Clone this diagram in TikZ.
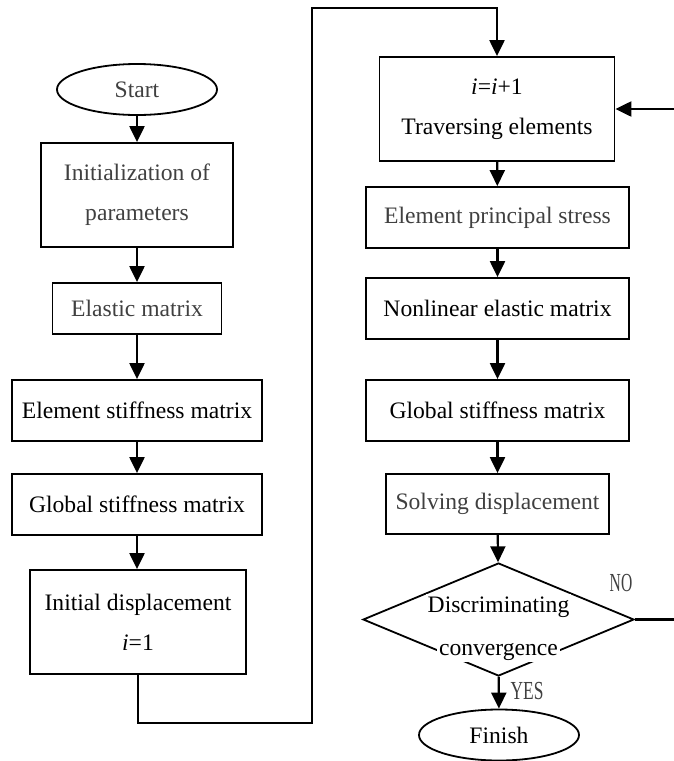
\documentclass[tikz,border=0pt]{standalone}
\usepackage{fontspec}
\usepackage{graphicx}
\setmainfont{Liberation Serif}
\usetikzlibrary{shapes.geometric,arrows.meta}
\definecolor{txtgray}{gray}{0.25}

\begin{document}
\begin{tikzpicture}[x=0.5pt, y=-0.5pt,
    font=\fontsize{11.8}{20}\selectfont,
    box/.style={draw, line width=0.9pt, align=center, inner sep=0pt},
    term/.style={draw, ellipse, line width=0.9pt, inner sep=0pt, minimum width=80pt, minimum height=25.5pt},
    decision/.style={draw, diamond, line width=0.9pt, inner sep=0pt, minimum width=135.5pt, minimum height=56.5pt},
    dlabel/.style={fill=white, inner sep=1pt, anchor=base},
    yn/.style={text=txtgray, inner sep=0pt, font=\fontsize{13}{15}\selectfont},
    arr/.style={-{Triangle[length=8pt,width=7.5pt]}, line width=1.1pt},
    conn/.style={line width=1.1pt}]
    \useasboundingbox (0,0) rectangle (674,761);
    \node[term, text=txtgray] (start) at (137,89.5) {Start};
    \node[box, text=txtgray, minimum width=96pt, minimum height=52pt] (init) at (137,195) {Initialization of\\parameters};
    \node[box, text=txtgray, minimum width=84.5pt, minimum height=25.5pt] (elastic) at (137,308.5) {Elastic matrix};
    \node[box, minimum width=125pt, minimum height=30.5pt] (elemk) at (137,410.5) {Element stiffness matrix};
    \node[box, minimum width=125pt, minimum height=30.5pt] (globk) at (137,504.5) {Global stiffness matrix};
    \node[box, minimum width=108pt, minimum height=52pt] (initdisp) at (138,622) {Initial displacement\\\textit{i}=1};
    \node[box, minimum width=117.5pt, minimum height=52pt] (trav) at (497,109) {\textit{i}=\textit{i}+1\\Traversing elements};
    \node[box, text=txtgray, minimum width=131.5pt, minimum height=30.5pt] (princ) at (497.5,217.5) {Element principal stress};
    \node[box, minimum width=131.5pt, minimum height=30.5pt] (nonlin) at (497.5,308.5) {Nonlinear elastic matrix};
    \node[box, minimum width=131.5pt, minimum height=30.5pt] (globk2) at (497.5,410.5) {Global stiffness matrix};
    \node[box, text=txtgray, minimum width=111.5pt, minimum height=30pt] (solve) at (497.5,504) {Solving displacement};
    \node[decision] (conv) at (498.5,619.5) {};
    \node[dlabel] (convtop) at (498.5,612) {Discriminating};
    \node[dlabel] (convbot) at (498.5,655) {convergence};
    \node[term] (finish) at (499,735) {Finish};
    \node[yn] (nolab) at (621,583) {\scalebox{0.6}[1]{NO}};
    \node[yn] (yeslab) at (527,691) {\scalebox{0.67}[1]{YES}};
    \coordinate (noend) at (674,619.5);
    \coordinate (back) at (674,109);
    \draw[arr] (start) -- (init);
    \draw[arr] (init) -- (elastic);
    \draw[arr] (elastic) -- (elemk);
    \draw[arr] (elemk) -- (globk);
    \draw[arr] (globk) -- (initdisp.north -| globk.south);
    \draw[arr] (initdisp.south) -- ++(0,48) -| (312,8) -| (trav.north);
    \draw[arr] (trav) -- (princ);
    \draw[arr] (princ) -- (nonlin);
    \draw[arr] (nonlin) -- (globk2);
    \draw[arr] (globk2) -- (solve);
    \draw[arr] (solve) -- (conv);
    \draw[arr] (conv) -- (finish);
    \draw[conn] (conv.east) -- (noend);
    \draw[arr] (back) -- (trav.east);
\end{tikzpicture}
\end{document}
